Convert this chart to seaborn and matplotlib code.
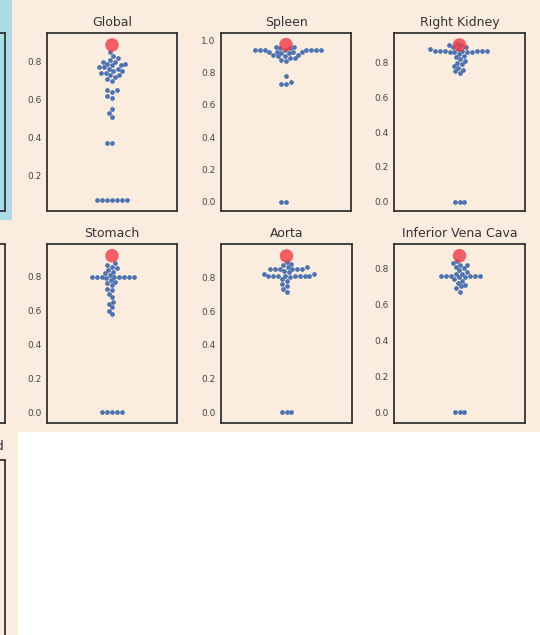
import numpy as np
import matplotlib
matplotlib.use("Agg")
import matplotlib.pyplot as plt
from matplotlib.patches import Rectangle
from matplotlib.ticker import MultipleLocator
import seaborn as sns

# organ names shown as panel titles
organs = ["Global", "Spleen", "Right Kidney", "Stomach", "Aorta", "Inferior Vena Cava"]

# per-case scores of the compared runs (blue swarm)
global_scores = [0.85, 0.83, 0.82, 0.81, 0.80, 0.80, 0.79, 0.79, 0.78, 0.78, 0.77, 0.77,
                 0.76, 0.76, 0.75, 0.75, 0.74, 0.74, 0.73, 0.73, 0.72, 0.71, 0.70,
                 0.65, 0.65, 0.64, 0.62, 0.61, 0.55, 0.53, 0.51, 0.37, 0.37,
                 0.07, 0.07, 0.07, 0.07, 0.07, 0.07, 0.07]
spleen_scores = [0.96, 0.96, 0.95, 0.95, 0.94, 0.94, 0.94, 0.94, 0.94, 0.94, 0.94, 0.94,
                 0.93, 0.93, 0.93, 0.93, 0.92, 0.92, 0.91, 0.91, 0.90, 0.90, 0.89, 0.89,
                 0.88, 0.87, 0.78, 0.74, 0.73, 0.73, 0.0, 0.0]
kidney_scores = [0.91, 0.90, 0.90, 0.89, 0.89, 0.88, 0.88, 0.87, 0.87, 0.87, 0.87, 0.87,
                 0.87, 0.87, 0.86, 0.86, 0.86, 0.86, 0.85, 0.84, 0.83, 0.82, 0.81, 0.80,
                 0.79, 0.78, 0.77, 0.76, 0.75, 0.74, 0.0, 0.0, 0.0]
stomach_scores = [0.88, 0.87, 0.86, 0.85, 0.84, 0.83, 0.82, 0.81, 0.80, 0.80, 0.80, 0.80,
                  0.80, 0.80, 0.80, 0.80, 0.79, 0.78, 0.77, 0.76, 0.75, 0.73, 0.72, 0.70,
                  0.68, 0.65, 0.64, 0.62, 0.60, 0.58, 0.0, 0.0, 0.0, 0.0, 0.0]
aorta_scores = [0.89, 0.88, 0.87, 0.86, 0.86, 0.85, 0.85, 0.85, 0.85, 0.85, 0.85, 0.84,
                0.83, 0.82, 0.82, 0.81, 0.81, 0.81, 0.81, 0.81, 0.81, 0.81, 0.81, 0.80,
                0.79, 0.78, 0.76, 0.75, 0.73, 0.71, 0.0, 0.0, 0.0]
ivc_scores = [0.84, 0.83, 0.82, 0.82, 0.81, 0.80, 0.79, 0.78, 0.77, 0.77, 0.76, 0.76,
              0.76, 0.76, 0.76, 0.76, 0.75, 0.75, 0.74, 0.73, 0.72, 0.71, 0.70, 0.69,
              0.67, 0.0, 0.0, 0.0]

# highlighted score (red dot)
best_scores = [0.888, 0.973, 0.902, 0.924, 0.926, 0.870]

all_scores = [global_scores, spleen_scores, kidney_scores,
              stomach_scores, aorta_scores, ivc_scores]

sns.set_style("white")
plt.rcParams["font.family"] = ["DejaVu Sans"]

W, H = 540, 635
fig = plt.figure(figsize=(W / 100, H / 100), dpi=100, facecolor="white")

linen = "#fbece0"
# background blocks (pixel boxes: x0, y0_top, x1, y1_top)
fig.patches.append(Rectangle((0, 0), 1, 1, transform=fig.transFigure,
                             facecolor=linen, edgecolor="none", zorder=-10))
fig.patches.append(Rectangle((18 / W, 0), 1 - 18 / W, (H - 432) / H, transform=fig.transFigure,
                             facecolor="white", edgecolor="none", zorder=-9))
fig.patches.append(Rectangle((0, 1 - 220 / H), 12 / W, 220 / H, transform=fig.transFigure,
                             facecolor="#acdde4", edgecolor="none", zorder=-9))


def px_axes(x0, y0, x1, y1):
    return fig.add_axes([x0 / W, 1 - y1 / H, (x1 - x0) / W, (y1 - y0) / H])


def style_axes(ax):
    ax.set_facecolor("none")
    for sp in ax.spines.values():
        sp.set_color("#333333")
        sp.set_linewidth(1.3)
        sp.set_visible(True)


# partially visible panels of the column to the left
for y0, y1 in [(33, 211), (244, 423), (460, 700)]:
    ax = px_axes(-125, y0, 5, y1)
    style_axes(ax)
    ax.set_xticks([])
    ax.set_yticks([])
fig.text(4 / W, 1 - 450 / H, "Left Adrenal Gland", ha="right", va="baseline",
         fontsize=9.5, color="#333333")

boxes = [(47, 33, 177, 211), (221, 33, 351, 211), (394, 33, 525, 211),
         (47, 244, 177, 423), (221, 244, 352, 423), (394, 244, 525, 423)]
ylims = [(0.014, 0.951), (-0.058, 1.045), (-0.054, 0.971),
         (-0.063, 0.993), (-0.063, 0.997), (-0.059, 0.935)]

for name, vals, best, box, yl in zip(organs, all_scores, best_scores, boxes, ylims):
    ax = px_axes(*box)
    sns.swarmplot(y=vals, ax=ax, size=3.4, color="#4c72b0")
    ax.scatter([0], [best], s=95, color="#ee3b48", alpha=0.8, edgecolor="none", zorder=5)
    style_axes(ax)
    ax.set_xlim(-0.5, 0.5)
    ax.set_ylim(*yl)
    ax.yaxis.set_major_locator(MultipleLocator(0.2))
    ax.set_xticks([])
    ax.set_xlabel("")
    ax.set_ylabel("")
    ax.tick_params(axis="y", length=0, pad=4, labelsize=6.5, labelcolor="#444444")
    ax.set_title(name, fontsize=9, color="#333333", pad=5)

fig.savefig("out.png", dpi=100, facecolor=fig.get_facecolor())
